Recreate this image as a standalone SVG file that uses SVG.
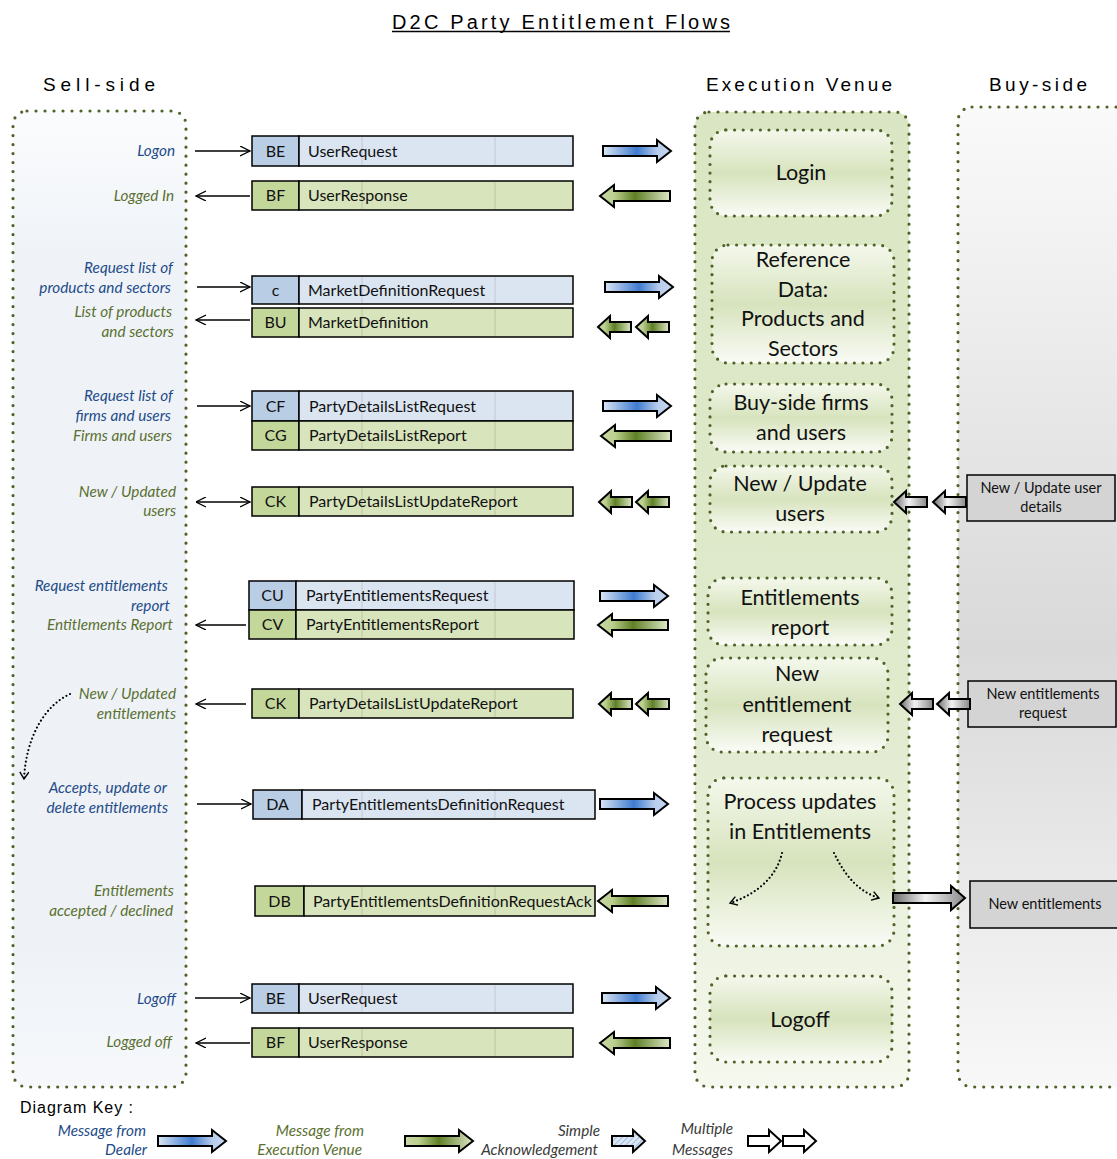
<svg xmlns="http://www.w3.org/2000/svg" width="1117" height="1159" viewBox="0 0 1117 1159">
<style>
.hdr{font-family:"Liberation Sans",Arial,sans-serif;font-size:19px;fill:#000}
.lbl{font-family:Lato,"Liberation Sans",sans-serif;font-style:italic;font-size:15.3px;text-anchor:end}
.lb{fill:#234b88}
.lg{fill:#5a7030}
.lk{fill:#3a3a3a}
.msg{font-family:Lato,"Liberation Sans",sans-serif;font-size:16px;fill:#111}
.code{text-anchor:middle}
.ev{font-family:Lato,"Liberation Sans",sans-serif;font-size:21.5px;fill:#111;text-anchor:middle}
.bs{font-family:Lato,"Liberation Sans",sans-serif;font-size:14.5px;fill:#111;text-anchor:middle}
.dotc{fill:none;stroke:#4f6228;stroke-width:3.2;stroke-dasharray:0 9;stroke-linecap:round}
.doti{fill:url(#gInner);stroke:#4f6228;stroke-width:3.2;stroke-dasharray:0 8.6;stroke-linecap:round}
.cb{fill:#b9cde4;stroke:#000;stroke-width:1.5}
.nb{fill:#dbe5f1;stroke:#000;stroke-width:1.5}
.cg{fill:#c4d79b;stroke:#000;stroke-width:1.5}
.ng{fill:#d8e4bc;stroke:#000;stroke-width:1.5}
.grid{stroke:#000;stroke-opacity:0.13;stroke-width:1}
.thin{stroke:#000;stroke-width:1.3;fill:none}
.curve{fill:none;stroke:#000;stroke-width:2.2;stroke-dasharray:0 4;stroke-linecap:round}
.blk{stroke:#000;stroke-width:2;stroke-linejoin:miter}
.bsbox{fill:#d4d4d4;stroke:#000;stroke-width:1.5}
</style>
<defs>
<linearGradient id="gSell" x1="0" y1="0" x2="0" y2="1">
<stop offset="0" stop-color="#fbfcfd"/>
<stop offset="0.15" stop-color="#eff3f8"/>
<stop offset="0.85" stop-color="#eef2f7"/>
<stop offset="1" stop-color="#f6f8fb"/>
</linearGradient>
<linearGradient id="gEV" x1="0" y1="0" x2="0" y2="1">
<stop offset="0" stop-color="#dae6c3"/>
<stop offset="0.6" stop-color="#e0eacd"/>
<stop offset="1" stop-color="#f5f8ee"/>
</linearGradient>
<linearGradient id="gBuy" x1="0" y1="0" x2="0" y2="1">
<stop offset="0" stop-color="#fafafa"/>
<stop offset="0.55" stop-color="#d9d9d9"/>
<stop offset="1" stop-color="#f8f8f8"/>
</linearGradient>
<linearGradient id="gInner" x1="0" y1="0" x2="0" y2="1">
<stop offset="0" stop-color="#f4f8ec"/>
<stop offset="0.5" stop-color="#d7e3bd"/>
<stop offset="1" stop-color="#f9fbf5"/>
</linearGradient>
<linearGradient id="gBlue" x1="0" y1="0" x2="1" y2="0">
<stop offset="0" stop-color="#dbe6f4"/>
<stop offset="0.5" stop-color="#3f7bcf"/>
<stop offset="0.8" stop-color="#b7cdec"/>
<stop offset="1" stop-color="#c9daf1"/>
</linearGradient>
<linearGradient id="gGreen" x1="0" y1="0" x2="1" y2="0">
<stop offset="0" stop-color="#c9d9a6"/>
<stop offset="0.2" stop-color="#bcd08f"/>
<stop offset="0.5" stop-color="#5f7f26"/>
<stop offset="1" stop-color="#dde8c6"/>
</linearGradient>
<linearGradient id="gGray" x1="0" y1="0" x2="1" y2="0">
<stop offset="0" stop-color="#6a6a6a"/>
<stop offset="0.45" stop-color="#f2f2f2"/>
<stop offset="1" stop-color="#8a8a8a"/>
</linearGradient>
<pattern id="hatch" width="4" height="4" patternUnits="userSpaceOnUse" patternTransform="rotate(45)">
<rect width="4" height="4" fill="#dce6f4"/>
<line x1="0" y1="0" x2="0" y2="4" stroke="#8fb0dc" stroke-width="1.5"/>
</pattern>
<marker id="ah" markerWidth="12" markerHeight="12" refX="10" refY="5" orient="auto" markerUnits="userSpaceOnUse">
<path d="M0,0 L10,5 L0,10" fill="none" stroke="#000" stroke-width="1.3"/>
</marker>
<marker id="ahs" markerWidth="12" markerHeight="12" refX="0" refY="5" orient="auto" markerUnits="userSpaceOnUse">
<path d="M10,0 L0,5 L10,10" fill="none" stroke="#000" stroke-width="1.3"/>
</marker>
<marker id="ahc" markerWidth="12" markerHeight="12" refX="8" refY="5" orient="auto" markerUnits="userSpaceOnUse">
<path d="M1,0.5 L8,5 L1,9.5" fill="none" stroke="#000" stroke-width="1.4"/>
</marker>
<path id="aR" d="M0,-5 H54 V-11 L68,0 L54,11 V5 H0 Z"/>
<path id="aL" d="M0,0 L14,-11 V-5 H70 V5 H14 V11 Z"/>
<path id="aLs" d="M0,0 L12,-11 V-5 H33 V5 H12 V11 Z"/>
<path id="aRs" d="M0,-5 H21 V-11 L33,0 L21,11 V5 H0 Z"/>
<path id="aRg" d="M0,-5 H58 V-12 L72,0 L58,12 V5 H0 Z"/>
</defs>

<rect width="1117" height="1159" fill="#ffffff"/>

<g id="title">
<text x="392" y="29" class="hdr" textLength="338" lengthAdjust="spacing" style="font-size:20px">D2C Party Entitlement Flows</text>
<line x1="392" y1="31.5" x2="730" y2="31.5" stroke="#000" stroke-width="1.5"/>
</g>

<g id="headers">
<text x="43" y="91" class="hdr" textLength="112" lengthAdjust="spacing">Sell-side</text>
<text x="706" y="91" class="hdr" textLength="186" lengthAdjust="spacing">Execution Venue</text>
<text x="989" y="91" class="hdr" textLength="98" lengthAdjust="spacing">Buy-side</text>
</g>

<g id="sell-side">
<rect x="13" y="111" width="173" height="976" rx="14" fill="url(#gSell)"/>
<rect x="13" y="111" width="173" height="976" rx="14" class="dotc"/>
</g>
<g id="execution-venue">
<rect x="695" y="112" width="214" height="975" rx="14" fill="url(#gEV)"/>
<rect x="695" y="112" width="214" height="975" rx="14" class="dotc"/>
</g>
<g id="buy-side">
<rect x="958" y="107" width="175" height="980" rx="14" fill="url(#gBuy)"/>
<rect x="958" y="107" width="175" height="980" rx="14" class="dotc"/>
</g>

<g id="ev-login">
<rect x="710" y="130" width="182" height="86" rx="16" class="doti"/>
<text x="801" y="180" class="ev">Login</text>
</g>
<g id="ev-refdata">
<rect x="712" y="245" width="182" height="118" rx="16" class="doti"/>
<text class="ev"><tspan x="803" y="267">Reference</tspan><tspan x="803" y="297">Data:</tspan><tspan x="803" y="326">Products  and</tspan><tspan x="803" y="356">Sectors</tspan></text>
</g>
<g id="ev-buyside-firms">
<rect x="710" y="384" width="182" height="68" rx="16" class="doti"/>
<text class="ev"><tspan x="801" y="410">Buy-side firms</tspan><tspan x="801" y="440">and users</tspan></text>
</g>
<g id="ev-new-users">
<rect x="710" y="466" width="182" height="66" rx="16" class="doti"/>
<text class="ev"><tspan x="800" y="491">New / Update</tspan><tspan x="800" y="521">users</tspan></text>
</g>
<g id="ev-ent-report">
<rect x="708" y="578" width="184" height="67" rx="16" class="doti"/>
<text class="ev"><tspan x="800" y="605">Entitlements</tspan><tspan x="800" y="635">report</tspan></text>
</g>
<g id="ev-new-ent">
<rect x="706" y="658" width="182" height="94" rx="16" class="doti"/>
<text class="ev"><tspan x="797" y="681">New</tspan><tspan x="797" y="712">entitlement</tspan><tspan x="797" y="742">request</tspan></text>
</g>
<g id="ev-process">
<rect x="708" y="778" width="186" height="168" rx="16" class="doti"/>
<text class="ev"><tspan x="800" y="809">Process updates</tspan><tspan x="800" y="839">in Entitlements</tspan></text>
</g>
<g id="ev-logoff">
<rect x="710" y="976" width="182" height="86" rx="16" class="doti"/>
<text x="800" y="1027" class="ev">Logoff</text>
</g>

<g id="bs-user-details">
<rect x="967" y="475" width="148" height="46" class="bsbox"/>
<text class="bs"><tspan x="1041" y="493">New / Update user</tspan><tspan x="1041" y="512">details</tspan></text>
</g>
<g id="bs-ent-request">
<rect x="968" y="681" width="148" height="46" class="bsbox"/>
<text class="bs"><tspan x="1043" y="699">New entitlements</tspan><tspan x="1043" y="718">request</tspan></text>
</g>
<g id="bs-new-ent">
<rect x="970" y="881" width="150" height="47" class="bsbox"/>
<text x="1045" y="909" class="bs">New entitlements</text>
</g>

<g id="msg-be-1">
<rect x="252" y="136" width="47" height="30" class="cb"/><rect x="299" y="136" width="274" height="30" class="nb"/>
<line x1="362" y1="137" x2="362" y2="165" class="grid"/><line x1="495" y1="137" x2="495" y2="165" class="grid"/>
<text x="275.5" y="157" class="msg code">BE</text><text x="308" y="157" class="msg">UserRequest</text>
</g>
<g id="msg-bf-1">
<rect x="252" y="181" width="47" height="29" class="cg"/><rect x="299" y="181" width="274" height="29" class="ng"/>
<line x1="362" y1="182" x2="362" y2="209" class="grid"/><line x1="495" y1="182" x2="495" y2="209" class="grid"/>
<text x="275.5" y="201" class="msg code">BF</text><text x="308" y="201" class="msg">UserResponse</text>
</g>
<g id="msg-c">
<rect x="252" y="276" width="47" height="28" class="cb"/><rect x="299" y="276" width="274" height="28" class="nb"/>
<line x1="362" y1="277" x2="362" y2="303" class="grid"/><line x1="495" y1="277" x2="495" y2="303" class="grid"/>
<text x="275.5" y="296" class="msg code">c</text><text x="308" y="296" class="msg">MarketDefinitionRequest</text>
</g>
<g id="msg-bu">
<rect x="252" y="308" width="47" height="29" class="cg"/><rect x="299" y="308" width="274" height="29" class="ng"/>
<line x1="362" y1="309" x2="362" y2="336" class="grid"/><line x1="495" y1="309" x2="495" y2="336" class="grid"/>
<text x="275.5" y="328" class="msg code">BU</text><text x="308" y="328" class="msg">MarketDefinition</text>
</g>
<g id="msg-cf">
<rect x="252" y="391" width="47" height="30" class="cb"/><rect x="299" y="391" width="274" height="30" class="nb"/>
<line x1="362" y1="392" x2="362" y2="420" class="grid"/><line x1="495" y1="392" x2="495" y2="420" class="grid"/>
<text x="275.5" y="412" class="msg code">CF</text><text x="309" y="412" class="msg">PartyDetailsListRequest</text>
</g>
<g id="msg-cg">
<rect x="252" y="421" width="47" height="29" class="cg"/><rect x="299" y="421" width="274" height="29" class="ng"/>
<line x1="362" y1="422" x2="362" y2="449" class="grid"/><line x1="495" y1="422" x2="495" y2="449" class="grid"/>
<text x="275.5" y="441" class="msg code">CG</text><text x="309" y="441" class="msg">PartyDetailsListReport</text>
</g>
<g id="msg-ck-1">
<rect x="252" y="487" width="47" height="29" class="cg"/><rect x="299" y="487" width="274" height="29" class="ng"/>
<line x1="362" y1="488" x2="362" y2="515" class="grid"/><line x1="495" y1="488" x2="495" y2="515" class="grid"/>
<text x="275.5" y="507" class="msg code">CK</text><text x="309" y="507" class="msg">PartyDetailsListUpdateReport</text>
</g>
<g id="msg-cu">
<rect x="249" y="581" width="47" height="29" class="cb"/><rect x="296" y="581" width="278" height="29" class="nb"/>
<line x1="362" y1="582" x2="362" y2="609" class="grid"/><line x1="495" y1="582" x2="495" y2="609" class="grid"/>
<text x="272.5" y="601" class="msg code">CU</text><text x="306" y="601" class="msg">PartyEntitlementsRequest</text>
</g>
<g id="msg-cv">
<rect x="249" y="610" width="47" height="29" class="cg"/><rect x="296" y="610" width="278" height="29" class="ng"/>
<line x1="362" y1="611" x2="362" y2="638" class="grid"/><line x1="495" y1="611" x2="495" y2="638" class="grid"/>
<text x="272.5" y="630" class="msg code">CV</text><text x="306" y="630" class="msg">PartyEntitlementsReport</text>
</g>
<g id="msg-ck-2">
<rect x="252" y="689" width="47" height="29" class="cg"/><rect x="299" y="689" width="274" height="29" class="ng"/>
<line x1="362" y1="690" x2="362" y2="717" class="grid"/><line x1="495" y1="690" x2="495" y2="717" class="grid"/>
<text x="275.5" y="709" class="msg code">CK</text><text x="309" y="709" class="msg">PartyDetailsListUpdateReport</text>
</g>
<g id="msg-da">
<rect x="253" y="790" width="49" height="29" class="cb"/><rect x="302" y="790" width="293" height="29" class="nb"/>
<line x1="362" y1="791" x2="362" y2="818" class="grid"/><line x1="495" y1="791" x2="495" y2="818" class="grid"/>
<text x="277.5" y="810" class="msg code">DA</text><text x="312" y="810" class="msg">PartyEntitlementsDefinitionRequest</text>
</g>
<g id="msg-db">
<rect x="255" y="886" width="49" height="30" class="cg"/><rect x="304" y="886" width="291" height="30" class="ng"/>
<line x1="362" y1="887" x2="362" y2="915" class="grid"/><line x1="495" y1="887" x2="495" y2="915" class="grid"/>
<text x="279.5" y="907" class="msg code">DB</text><text x="313" y="907" class="msg">PartyEntitlementsDefinitionRequestAck</text>
</g>
<g id="msg-be-2">
<rect x="252" y="984" width="47" height="29" class="cb"/><rect x="299" y="984" width="274" height="29" class="nb"/>
<line x1="362" y1="985" x2="362" y2="1012" class="grid"/><line x1="495" y1="985" x2="495" y2="1012" class="grid"/>
<text x="275.5" y="1004" class="msg code">BE</text><text x="308" y="1004" class="msg">UserRequest</text>
</g>
<g id="msg-bf-2">
<rect x="252" y="1028" width="47" height="29" class="cg"/><rect x="299" y="1028" width="274" height="29" class="ng"/>
<line x1="362" y1="1029" x2="362" y2="1056" class="grid"/><line x1="495" y1="1029" x2="495" y2="1056" class="grid"/>
<text x="275.5" y="1048" class="msg code">BF</text><text x="308" y="1048" class="msg">UserResponse</text>
</g>

<g id="labels">
<text x="175" y="156" class="lbl lb">Logon</text>
<text x="174" y="201" class="lbl lg">Logged In</text>
<text x="173" y="273" class="lbl lb">Request list of</text>
<text x="171" y="293" class="lbl lb">products and sectors</text>
<text x="172" y="317" class="lbl lg">List of products</text>
<text x="174" y="337" class="lbl lg">and sectors</text>
<text x="173" y="401" class="lbl lb">Request list of</text>
<text x="171" y="421" class="lbl lb">firms and users</text>
<text x="172" y="441" class="lbl lg">Firms and users</text>
<text x="176" y="497" class="lbl lg">New / Updated</text>
<text x="176" y="516" class="lbl lg">users</text>
<text x="168" y="591" class="lbl lb">Request entitlements</text>
<text x="170" y="611" class="lbl lb">report</text>
<text x="173" y="630" class="lbl lg">Entitlements Report</text>
<text x="176" y="699" class="lbl lg">New / Updated</text>
<text x="176" y="719" class="lbl lg">entitlements</text>
<text x="167" y="793" class="lbl lb">Accepts, update or</text>
<text x="168" y="813" class="lbl lb">delete entitlements</text>
<text x="174" y="896" class="lbl lg">Entitlements</text>
<text x="173" y="916" class="lbl lg">accepted / declined</text>
<text x="176" y="1004" class="lbl lb">Logoff</text>
<text x="172" y="1047" class="lbl lg">Logged off</text>
</g>

<g id="connectors">
<line x1="195" y1="151" x2="250" y2="151" class="thin" marker-end="url(#ah)"/>
<line x1="250" y1="196" x2="196" y2="196" class="thin" marker-end="url(#ah)"/>
<line x1="197" y1="287" x2="250" y2="287" class="thin" marker-end="url(#ah)"/>
<line x1="250" y1="320" x2="196" y2="320" class="thin" marker-end="url(#ah)"/>
<line x1="197" y1="406" x2="250" y2="406" class="thin" marker-end="url(#ah)"/>
<line x1="196" y1="502" x2="250" y2="502" class="thin" marker-start="url(#ahs)" marker-end="url(#ah)"/>
<line x1="246" y1="625" x2="196" y2="625" class="thin" marker-end="url(#ah)"/>
<line x1="246" y1="704" x2="196" y2="704" class="thin" marker-end="url(#ah)"/>
<line x1="197" y1="804" x2="251" y2="804" class="thin" marker-end="url(#ah)"/>
<line x1="195" y1="998" x2="250" y2="998" class="thin" marker-end="url(#ah)"/>
<line x1="250" y1="1043" x2="196" y2="1043" class="thin" marker-end="url(#ah)"/>

<path d="M70,694 C44,706 26,738 24,779" class="curve" marker-end="url(#ahc)"/>
<path d="M782,853 C776,880 752,896 730,903" class="curve" marker-end="url(#ahc)"/>
<path d="M834,853 C846,878 860,892 879,898" class="curve" marker-end="url(#ahc)"/>

<use href="#aR" x="603" y="151" fill="url(#gBlue)" class="blk"/>
<use href="#aL" x="600" y="196" fill="url(#gGreen)" class="blk"/>
<use href="#aR" x="605" y="287" fill="url(#gBlue)" class="blk"/>
<use href="#aLs" x="598" y="327" fill="url(#gGreen)" class="blk"/>
<use href="#aLs" x="636" y="327" fill="url(#gGreen)" class="blk"/>
<use href="#aR" x="603" y="406" fill="url(#gBlue)" class="blk"/>
<use href="#aL" x="601" y="436" fill="url(#gGreen)" class="blk"/>
<use href="#aLs" x="599" y="502" fill="url(#gGreen)" class="blk"/>
<use href="#aLs" x="636" y="502" fill="url(#gGreen)" class="blk"/>
<use href="#aR" x="600" y="596" fill="url(#gBlue)" class="blk"/>
<use href="#aL" x="598" y="625" fill="url(#gGreen)" class="blk"/>
<use href="#aLs" x="599" y="704" fill="url(#gGreen)" class="blk"/>
<use href="#aLs" x="636" y="704" fill="url(#gGreen)" class="blk"/>
<use href="#aR" x="600" y="804" fill="url(#gBlue)" class="blk"/>
<use href="#aL" x="598" y="901" fill="url(#gGreen)" class="blk"/>
<use href="#aR" x="602" y="998" fill="url(#gBlue)" class="blk"/>
<use href="#aL" x="600" y="1043" fill="url(#gGreen)" class="blk"/>

<use href="#aLs" x="894" y="502" fill="url(#gGray)" class="blk"/>
<use href="#aLs" x="933" y="502" fill="url(#gGray)" class="blk"/>
<use href="#aLs" x="900" y="704" fill="url(#gGray)" class="blk"/>
<use href="#aLs" x="937" y="704" fill="url(#gGray)" class="blk"/>
<use href="#aRg" x="893" y="898" fill="url(#gGray)" class="blk"/>
</g>

<g id="key">
<text x="20" y="1113" class="hdr" textLength="113" lengthAdjust="spacing" style="font-size:16px">Diagram Key :</text>
<text x="146" y="1136" class="lbl lb">Message from</text>
<text x="147" y="1155" class="lbl lb">Dealer</text>
<use href="#aR" x="158" y="1141" fill="url(#gBlue)" class="blk"/>
<text x="364" y="1136" class="lbl lg">Message from</text>
<text x="362" y="1155" class="lbl lg">Execution Venue</text>
<use href="#aR" x="405" y="1141" fill="url(#gGreen)" class="blk"/>
<text x="600" y="1136" class="lbl lk">Simple</text>
<text x="598" y="1155" class="lbl lk">Acknowledgement</text>
<use href="#aRs" x="612" y="1141" fill="url(#hatch)" class="blk"/>
<text x="733" y="1134" class="lbl lk">Multiple</text>
<text x="733" y="1155" class="lbl lk">Messages</text>
<use href="#aRs" x="748" y="1141" fill="#ffffff" class="blk"/>
<use href="#aRs" x="783" y="1141" fill="#ffffff" class="blk"/>
</g>
</svg>
